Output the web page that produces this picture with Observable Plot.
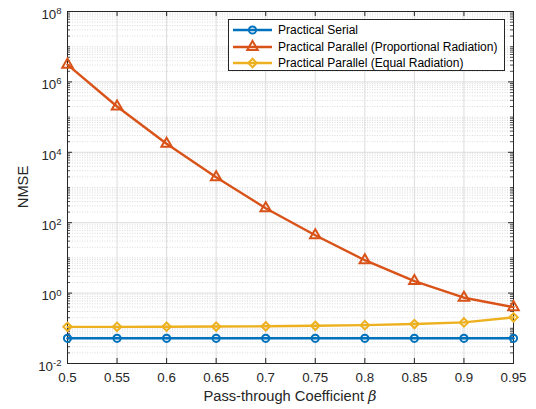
<!DOCTYPE html>
<html>
<head>
<meta charset="utf-8">
<script src="https://cdn.jsdelivr.net/npm/d3@7"></script>
<script src="https://cdn.jsdelivr.net/npm/@observablehq/plot@0.6"></script>
<style>
  html, body { margin: 0; padding: 0; background: #fff; }
  #wrap { position: relative; width: 536px; height: 409px; font-family: "Liberation Sans", Arial, Helvetica, sans-serif; }
  #legend { position: absolute; left: 228px; top: 19px; width: 277px; height: 52px; border: 1px solid #262626; background: #fff; box-sizing: border-box; }
  .row { position: absolute; left: 0; height: 16px; display: flex; align-items: center; font-size: 12px; color: #000; white-space: nowrap; }
  .row svg { display: block; margin-left: 3px; margin-right: 5px; }
</style>
</head>
<body>
<div id="wrap"></div>
<script>
// ---- data ----
const beta = [0.5, 0.55, 0.6, 0.65, 0.7, 0.75, 0.8, 0.85, 0.9, 0.95];
const serial = [0.052, 0.052, 0.052, 0.052, 0.052, 0.052, 0.052, 0.052, 0.052, 0.052];
const proportional = [3.1e6, 2.0e5, 1.74e4, 1.95e3, 257, 44, 8.6, 2.2, 0.74, 0.40];
const equalRad = [0.110, 0.110, 0.111, 0.112, 0.114, 0.118, 0.123, 0.132, 0.147, 0.205];
const seriesNames = ["Practical Serial", "Practical Parallel (Proportional Radiation)", "Practical Parallel (Equal Radiation)"];
const colors = ["#0072BD", "#D95319", "#EDB120"];
const symbols = ["circle", "triangle", "diamond2"];
const yMajor = [1e-2, 1e0, 1e2, 1e4, 1e6, 1e8];
const xTicks = beta;

// derived
const series = [serial, proportional, equalRad];
const rows = [];
series.forEach((vals, i) => vals.forEach((v, j) => rows.push({name: seriesNames[i], x: beta[j], y: v, i})));
const yMinor = [];
for (let k = -2; k < 8; k++) for (let m = 1; m <= 9; m++) {
  if (m === 1 && k % 2 === 0) continue;
  yMinor.push(m * Math.pow(10, k));
}

const W = 536, H = 409, mL = 67, mR = 23, mT = 11, mB = 46;
const pw = W - mL - mR, ph = H - mT - mB;
const axisColor = "#262626";
const sizes = [3.6, 3.9, 3.8];

const marks = [
  Plot.ruleY(yMinor, {stroke: "#c4c4c4", strokeWidth: 0.6, strokeDasharray: "1,1.5"}),
  Plot.ruleY(yMajor, {stroke: "#dcdcdc", strokeWidth: 1}),
  Plot.ruleX(xTicks, {stroke: "#dcdcdc", strokeWidth: 1}),
  // inner tick marks
  Plot.ruleY(yMajor, {stroke: axisColor, insetRight: pw - 5}),
  Plot.ruleY(yMajor, {stroke: axisColor, insetLeft: pw - 5}),
  Plot.ruleY(yMinor, {stroke: axisColor, insetRight: pw - 3, strokeWidth: 0.8}),
  Plot.ruleY(yMinor, {stroke: axisColor, insetLeft: pw - 3, strokeWidth: 0.8}),
  Plot.ruleX(xTicks, {stroke: axisColor, insetTop: ph - 5}),
  Plot.ruleX(xTicks, {stroke: axisColor, insetBottom: ph - 5}),
  Plot.frame({stroke: axisColor, strokeWidth: 1}),
  Plot.axisX({ticks: xTicks, tickFormat: d => String(d), tickSize: 0, tickPadding: 9, fontSize: 13.3, label: null, color: axisColor}),
  Plot.axisY({ticks: yMajor, tickFormat: d => "10^" + Math.round(Math.log10(d)), tickSize: 0, tickPadding: 6, dy: 3, fontSize: 13.3, label: null, color: axisColor})
];
series.forEach((vals, i) => {
  const data = rows.filter(r => r.i === i);
  marks.push(Plot.line(data, {x: "x", y: "y", stroke: colors[i], strokeWidth: 2.4}));
  marks.push(Plot.dot(data, {x: "x", y: "y", stroke: colors[i], strokeWidth: 2, fill: "none", symbol: symbols[i], r: sizes[i]}));
});

const chart = Plot.plot({
  width: W, height: H,
  marginLeft: mL, marginRight: mR, marginTop: mT, marginBottom: mB,
  style: {fontFamily: '"Liberation Sans", Arial, Helvetica, sans-serif', background: "#fff", color: axisColor},
  x: {domain: [0.5, 0.95]},
  y: {type: "log", domain: [1e-2, 1e8]},
  marks
});

// superscript exponents in y tick labels
d3.select(chart).selectAll('g[aria-label="y-axis tick label"] text').each(function() {
  const t = this.textContent;
  if (!t.includes("^")) return;
  const [base, exp] = t.split("^");
  const sel = d3.select(this);
  sel.text(null);
  sel.append("tspan").text(base);
  sel.append("tspan").attr("dy", "-0.5em").attr("font-size", "0.72em").text(exp);
});

const svg = d3.select(chart);
const xl = svg.append("text").attr("x", mL + pw / 2).attr("y", 401).attr("text-anchor", "middle")
  .attr("font-size", 14.7).attr("fill", axisColor);
xl.append("tspan").text("Pass-through Coefficient ");
xl.append("tspan").attr("font-style", "italic").attr("font-family", '"DejaVu Serif", "Liberation Serif", serif').text("β");
svg.append("text").attr("transform", `translate(28,${mT + ph / 2}) rotate(-90)`).attr("text-anchor", "middle")
  .attr("font-size", 14.7).attr("fill", axisColor).text("NMSE");

const wrap = document.getElementById("wrap");
wrap.appendChild(chart);

// legend
const legend = document.createElement("div");
legend.id = "legend";
seriesNames.forEach((name, i) => {
  const row = document.createElement("div");
  row.className = "row";
  row.style.top = (2 + i * 16.5) + "px";
  const s = d3.create("svg").attr("width", 41).attr("height", 16);
  s.append("line").attr("x1", 1).attr("x2", 40).attr("y1", 8).attr("y2", 8).attr("stroke", colors[i]).attr("stroke-width", 2.4);
  const symMap = {circle: d3.symbolCircle, triangle: d3.symbolTriangle, diamond2: d3.symbolDiamond2};
  s.append("path").attr("transform", "translate(20.5,8)")
    .attr("d", d3.symbol(symMap[symbols[i]], Math.PI * sizes[i] * sizes[i])())
    .attr("fill", "none").attr("stroke", colors[i]).attr("stroke-width", 2);
  row.appendChild(s.node());
  const span = document.createElement("span");
  span.textContent = name;
  row.appendChild(span);
  legend.appendChild(row);
});
wrap.appendChild(legend);
</script>
</body>
</html>
